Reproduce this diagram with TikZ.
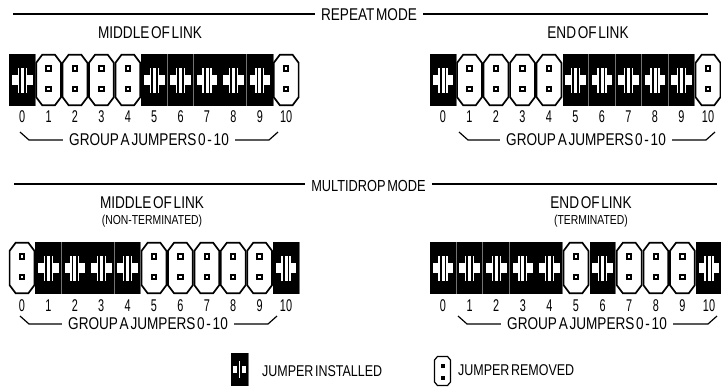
\documentclass[tikz,border=0pt]{standalone}
\usepackage{fontspec}
\setmainfont[FakeStretch=0.8,WordSpace=0.45]{Liberation Sans}
\tikzset{
  x=1pt,y=-1pt,
  rule/.style={line width=2.4pt,black},
  brk/.style={line width=1.2pt,black},
  lab/.style={inner sep=0pt,font=\fontsize{17}{17}\selectfont},
  leg/.style={inner sep=0pt,font=\fontsize{15.6}{16}\selectfont},
  sm/.style={inner sep=0pt,font=\fontsize{13}{13}\selectfont},
  num/.style={inner sep=0pt,font=\fontsize{17}{17}\selectfont},
  grp/.style={inner ysep=0pt,inner xsep=6pt,font=\fontsize{17}{17}\selectfont},
  mode/.style={inner ysep=0pt,inner xsep=6pt,font=\fontsize{16}{16}\selectfont},
}
% \jin{cx}{cy}{halfw}{halfh}{scale}
\newcommand{\jin}[5]{%
  \fill[black] (#1-#3,#2-#4) rectangle (#1+#3,#2+#4);
  \begin{scope}[shift={(#1,#2)},scale=#5]
    \fill[white] (-10.3,-5) rectangle (10.3,5);
    \fill[white] (-4.6,-12.5) rectangle (4.6,12.5);
    \fill[black] (-3.3,-12.5) rectangle (-1.5,12.5);
    \fill[black] (1.5,-12.5) rectangle (3.3,12.5);
  \end{scope}
  \draw[black!55,line width=.5pt] (#1+#3,#2-#4) -- (#1+#3,#2+#4);}
% \jout{cx}{cy}{halfw}{halfh}
\newcommand{\jout}[4]{%
  \begin{scope}[shift={(#1,#2)}]
    \draw[line width=1.7pt,fill=white] (-#3,-#4+8) -- (-#3+6,-#4) -- (#3-6,-#4) -- (#3,-#4+8) -- (#3,#4-8) -- (#3-6,#4) -- (-#3+6,#4) -- (-#3,#4-8) -- cycle;
    \fill[black] (-3.2,-14.7) rectangle (3.2,-8.3);
    \fill[black] (-3.2,5.8) rectangle (3.2,12.2);
    \fill[white] (-1.2,-12.7) rectangle (1.2,-10.3);
    \fill[white] (-1.2,7.8) rectangle (1.2,10.2);
  \end{scope}}
\newcommand{\jrow}[6]{% name, x0, pitch, cy, numy, list of installed
  \foreach \i in {0,...,10}{
    \pgfmathsetmacro{\cx}{#2+#3*\i}
    \global\def\inst{0}
    \foreach \k in {#6}{\ifnum\k=\i\global\def\inst{1}\fi}
    \ifnum\inst=1 \jin{\cx}{#4}{13}{26}{1}\else\jout{\cx}{#4}{12.4}{25.2}\fi
    \node[num,xscale=.8] (#1n\i) at (\cx,#5) {\i};
  }
}
\newcommand{\jgroup}[5]{% name, textx, y, leftx, rightx
  \node[grp] (#1g) at (#2,#3) {GROUP A JUMPERS 0 - 10};
  \coordinate (#1a) at (#4,#3-8);
  \coordinate (#1b) at (#5,#3-8);
  \draw[brk] (#1a) -- ++(9,8) -- (#1g.west);
  \draw[brk] (#1b) -- ++(-9,8) -- (#1g.east);
}
\begin{document}
\begin{tikzpicture}
\useasboundingbox (0,0) rectangle (721,386);
% Repeat mode
\node[mode,font=\fontsize{17}{17}\selectfont] (rm) at (369,15) {REPEAT MODE};
\coordinate (r1) at (13,14); \coordinate (r2) at (708,14);
\draw[rule] (r1) -- (r1 -| rm.west);
\draw[rule] (rm.east |- r2) -- (r2);
\node[lab] (t1) at (150,33) {MIDDLE OF LINK};
\node[lab] (t2) at (588,33) {END OF LINK};
\jrow{a}{22.2}{26.4}{80}{117}{0,5,6,7,8,9}
\jrow{b}{443}{26.5}{80}{117}{0,5,6,7,8,9}
\jgroup{a}{149}{140}{20}{278}
\jgroup{b}{586}{140}{459}{715}
% Multidrop
\node[mode] (mm) at (368.5,186) {MULTIDROP MODE};
\coordinate (m1) at (14,184); \coordinate (m2) at (717,184);
\draw[rule] (m1) -- (m1 -| mm.west);
\draw[rule] (mm.east |- m2) -- (m2);
\node[lab] (t3) at (152,203) {MIDDLE OF LINK};
\node[sm] (t3b) at (152,221) {(NON-TERMINATED)};
\node[lab] (t4) at (591,203) {END OF LINK};
\node[sm] (t4b) at (591,221) {(TERMINATED)};
\jrow{c}{22}{26.4}{268}{306}{1,2,3,4,10}
\jrow{d}{443}{26.6}{268}{306}{0,1,2,3,4,6,10}
\jgroup{c}{148}{324}{20}{277}
\jgroup{d}{587}{324}{458}{717}
% Legend
\jin{239.5}{369.5}{8.5}{16.5}{.65}
\node[leg,anchor=west] (li) at (262,371) {JUMPER INSTALLED};
\begin{scope}[shift={(442.5,371)}]
  \draw[line width=1.2pt,fill=white] (-8,-11) -- (-5,-14.5) -- (5,-14.5) -- (8,-11) -- (8,11) -- (5,14.5) -- (-5,14.5) -- (-8,11) -- cycle;
  \fill (-2,-7) rectangle (2,-3);
  \fill (-2,5) rectangle (2,9);
\end{scope}
\node[leg,anchor=west] (lr) at (458,370) {JUMPER REMOVED};
\end{tikzpicture}
\end{document}
